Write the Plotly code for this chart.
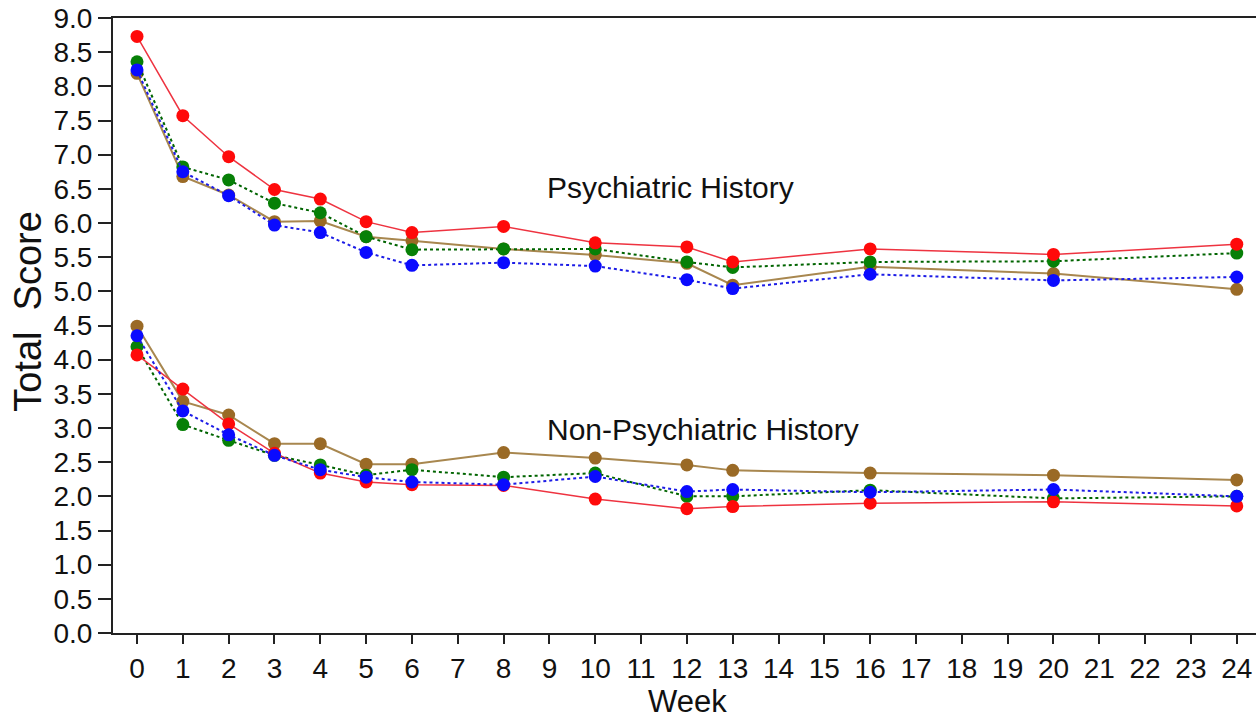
import plotly.graph_objects as go

weeks = [0, 1, 2, 3, 4, 5, 6, 8, 10, 12, 13, 16, 20, 24]

# Psychiatric History
psy_red   = [8.73, 7.57, 6.97, 6.49, 6.35, 6.02, 5.86, 5.95, 5.71, 5.65, 5.43, 5.62, 5.54, 5.69]
psy_green = [8.36, 6.82, 6.63, 6.29, 6.15, 5.80, 5.61, 5.62, 5.62, 5.43, 5.35, 5.43, 5.44, 5.56]
psy_blue  = [8.24, 6.75, 6.40, 5.97, 5.86, 5.57, 5.38, 5.42, 5.37, 5.17, 5.04, 5.25, 5.16, 5.21]
psy_brown = [8.19, 6.68, 6.41, 6.02, 6.03, 5.80, 5.74, 5.62, 5.53, 5.41, 5.09, 5.36, 5.26, 5.03]

# Non-Psychiatric History
non_red   = [4.07, 3.57, 3.06, 2.63, 2.34, 2.21, 2.17, 2.16, 1.96, 1.82, 1.85, 1.90, 1.92, 1.86]
non_green = [4.19, 3.05, 2.82, 2.60, 2.46, 2.31, 2.39, 2.28, 2.34, 2.00, 2.00, 2.09, 1.97, 2.00]
non_blue  = [4.35, 3.25, 2.90, 2.60, 2.39, 2.28, 2.21, 2.17, 2.29, 2.07, 2.10, 2.06, 2.10, 2.00]
non_brown = [4.49, 3.39, 3.19, 2.77, 2.77, 2.47, 2.47, 2.64, 2.56, 2.46, 2.38, 2.34, 2.31, 2.24]

x_ticks = list(range(0, 25))
y_ticks = [i * 0.5 for i in range(19)]
y_labels = [f"{v:.1f}" for v in y_ticks]

styles = {
    "brown": dict(line=dict(color="#A8874F", width=2, dash="solid"), marker=dict(color="#9A6A26", size=13)),
    "green": dict(line=dict(color="#006400", width=2, dash="dot"), marker=dict(color="#078007", size=13)),
    "red":   dict(line=dict(color="#EE3340", width=1.5, dash="solid"), marker=dict(color="#FF0A0A", size=13)),
    "blue":  dict(line=dict(color="#1C1CE6", width=2, dash="dot"), marker=dict(color="#0A0AFF", size=13)),
}

fig = go.Figure()
groups = [
    ("brown", psy_brown, non_brown),
    ("green", psy_green, non_green),
    ("red", psy_red, non_red),
    ("blue", psy_blue, non_blue),
]
for name, up, low in groups:
    for ys in (up, low):
        fig.add_trace(go.Scatter(
            x=weeks, y=ys, mode="lines+markers",
            line=styles[name]["line"],
            marker=dict(color=styles[name]["marker"]["color"], size=styles[name]["marker"]["size"],
                        line=dict(width=0)),
            showlegend=False, cliponaxis=False,
        ))

font_main = "Liberation Sans, Arial, sans-serif"

fig.add_annotation(x=8.9, y=6.52, text="Psychiatric History", showarrow=False,
                   xref="x", yref="y", xanchor="left", yanchor="middle",
                   font=dict(family=font_main, size=30, color="#111111"))
fig.add_annotation(x=8.9, y=2.98, text="Non-Psychiatric History", showarrow=False,
                   xref="x", yref="y", xanchor="left", yanchor="middle",
                   font=dict(family=font_main, size=30, color="#111111"))
fig.add_annotation(x=-0.074, y=0.523, text="Total\u00a0 Score", showarrow=False,
                   xref="paper", yref="paper", xanchor="center", yanchor="middle",
                   textangle=-90,
                   font=dict(family=font_main, size=38, color="#111111"))
fig.add_annotation(x=0.503, y=-0.111, text="Week", showarrow=False,
                   xref="paper", yref="paper", xanchor="center", yanchor="middle",
                   font=dict(family=font_main, size=31, color="#111111"))

fig.update_layout(
    width=1256, height=718,
    margin=dict(l=113, r=0, t=18, b=85),
    paper_bgcolor="white", plot_bgcolor="white",
    font=dict(family=font_main, color="#111111"),
)
fig.update_xaxes(
    range=[-0.524, 24.42], tickmode="array", tickvals=x_ticks,
    ticktext=[str(t) for t in x_ticks],
    showgrid=False, zeroline=False,
    showline=True, linecolor="#222222", linewidth=2, mirror=True,
    ticks="outside", ticklen=9, tickwidth=1.5, tickcolor="#222222",
    tickfont=dict(size=28, family=font_main, color="#111111"),
)
fig.update_yaxes(
    range=[0, 9], tickmode="array", tickvals=y_ticks, ticktext=y_labels,
    showgrid=False, zeroline=False,
    showline=True, linecolor="#222222", linewidth=2,
    ticks="outside", ticklen=13, tickwidth=1.5, tickcolor="#222222",
    tickfont=dict(size=28, family=font_main, color="#111111"),
)

fig.write_html("out.html", config={"displayModeBar": False},
               post_script="document.body.style.margin='0';document.body.style.overflow='hidden';")
